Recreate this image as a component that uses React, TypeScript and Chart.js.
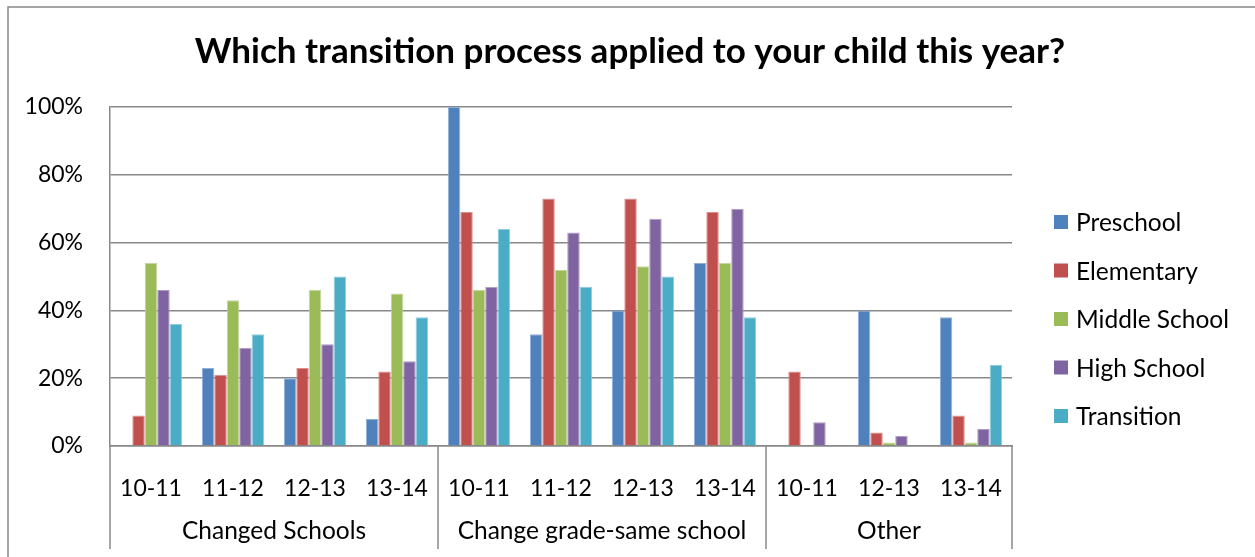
import React, { useEffect, useRef } from "react";
import { Chart, registerables } from "chart.js";

Chart.register(...registerables);

const TITLE = "Which transition process applied to your child this year?";
const categories = ["10-11", "11-12", "12-13", "13-14", "10-11", "11-12", "12-13", "13-14", "10-11", "12-13", "13-14"];
const groupNames = ["Changed Schools", "Change grade-same school", "Other"];
const groupSizes = [4, 4, 3];
const seriesNames = ["Preschool", "Elementary", "Middle School", "High School", "Transition"];
const preschool = [0, 23, 20, 8, 100, 33, 40, 54, 0, 40, 38];
const elementary = [9, 21, 23, 22, 69, 73, 73, 69, 22, 4, 9];
const middleSchool = [54, 43, 46, 45, 46, 52, 53, 54, 0, 1, 1];
const highSchool = [46, 29, 30, 25, 47, 63, 67, 70, 7, 3, 5];
const transition = [36, 33, 50, 38, 64, 47, 50, 38, 0, 0, 24];
const yTicks = [0, 20, 40, 60, 80, 100];

const colors = ["#4F81BD", "#C0504D", "#9BBB59", "#8064A2", "#4BACC6"];
const edgeColors = ["#8FB0D8", "#DA908E", "#C3D69E", "#AD9BC4", "#8FCCDC"];
const FONT = "Lato, 'Open Sans', sans-serif";
const LINE = "#888888";

const W = 1255;
const H = 557;

export default function App() {
  const ref = useRef<HTMLCanvasElement | null>(null);

  useEffect(() => {
    if (!ref.current) return;
    const seriesData = [preschool, elementary, middleSchool, highSchool, transition];

    const decor = {
      id: "decor",
      afterDraw(chart: any) {
        const ctx = chart.ctx;
        const x = chart.scales.x;
        const area = chart.chartArea;
        ctx.save();
        // outer frame
        ctx.strokeStyle = LINE;
        ctx.lineWidth = 1.5;
        ctx.beginPath();
        ctx.moveTo(8, H);
        ctx.lineTo(8, 7);
        ctx.lineTo(W, 7);
        ctx.stroke();
        // title
        ctx.fillStyle = "#000";
        ctx.font = `bold 35px ${FONT}`;
        ctx.textAlign = "center";
        ctx.textBaseline = "middle";
        ctx.fillText(TITLE, 630, 52);
        // group separators and labels
        const bottom = 549;
        ctx.strokeStyle = LINE;
        ctx.lineWidth = 1.5;
        let start = 0;
        const bounds: number[] = [area.left];
        groupSizes.forEach((n, gi) => {
          const end = start + n - 1;
          const right = end === categories.length - 1
            ? area.right
            : (x.getPixelForValue(end) + x.getPixelForValue(end + 1)) / 2;
          bounds.push(right);
          const left = bounds[gi];
          ctx.font = `24.5px ${FONT}`;
          ctx.fillStyle = "#000";
          ctx.fillText(groupNames[gi], (left + right) / 2, 531);
          start += n;
        });
        bounds.forEach((bx) => {
          ctx.beginPath();
          ctx.moveTo(bx, area.bottom);
          ctx.lineTo(bx, bottom);
          ctx.stroke();
        });
        // legend
        ctx.textAlign = "left";
        ctx.font = `24.5px ${FONT}`;
        chart.data.datasets.forEach((ds: any, i: number) => {
          const cy = 222 + i * 48.5;
          ctx.fillStyle = ds.backgroundColor;
          ctx.fillRect(1054, cy - 7, 14, 14);
          ctx.fillStyle = "#000";
          ctx.fillText(ds.label, 1076, cy + 1.5);
        });
        ctx.restore();
      },
    };

    const chart = new Chart(ref.current, {
      type: "bar",
      data: {
        labels: categories,
        datasets: seriesNames.map((name, i) => ({
          label: name,
          data: seriesData[i],
          backgroundColor: colors[i],
          borderColor: edgeColors[i],
          borderWidth: { top: 1, left: 1, right: 1, bottom: 0 },
          borderSkipped: "bottom",
          barPercentage: 1,
          categoryPercentage: 0.76,
        })),
      },
      options: {
        responsive: false,
        animation: false,
        devicePixelRatio: 1,
        layout: { padding: { top: 107, right: W - 1012, left: 0, bottom: 0 } },
        plugins: {
          legend: { display: false },
          title: { display: false },
          tooltip: { enabled: false },
        },
        scales: {
          x: {
            grid: { display: false },
            border: { display: true, color: LINE, width: 1.5 },
            ticks: {
              color: "#000",
              font: { family: FONT, size: 23 },
              padding: 21,
              maxRotation: 0,
              autoSkip: false,
            },
            afterFit: (s: any) => {
              s.height = H - 446;
            },
          },
          y: {
            min: 0,
            max: 100,
            afterBuildTicks: (s: any) => {
              s.ticks = yTicks.map((v) => ({ value: v }));
            },
            grid: { color: LINE, lineWidth: 1.5, drawTicks: false },
            border: { display: true, color: LINE, width: 1.5 },
            ticks: {
              color: "#000",
              font: { family: FONT, size: 23 },
              padding: 27,
              callback: (v: any) => v + "%",
            },
            afterFit: (s: any) => {
              s.width = 110;
            },
          },
        },
      },
      plugins: [decor],
    });
    return () => chart.destroy();
  }, []);

  return (
    <div style={{ position: "fixed", left: 0, top: 0, width: W, height: H, background: "#fff" }}>
      <canvas ref={ref} width={W} height={H} style={{ width: W, height: H, display: "block" }} />
    </div>
  );
}
